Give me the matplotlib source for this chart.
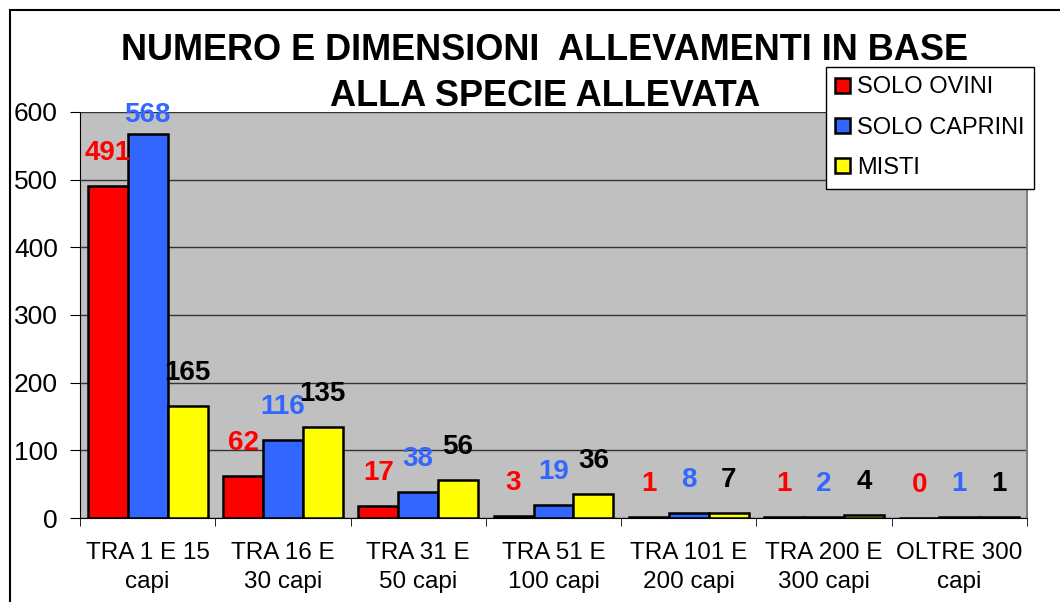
import numpy as np
import matplotlib
matplotlib.use("Agg")
import matplotlib.pyplot as plt
from matplotlib.patches import Rectangle

plt.rcParams['font.family'] = ['Liberation Sans', 'DejaVu Sans']

categories = ["TRA 1 E 15\ncapi", "TRA 16 E\n30 capi", "TRA 31 E\n50 capi", "TRA 51 E\n100 capi",
              "TRA 101 E\n200 capi", "TRA 200 E\n300 capi", "OLTRE 300\ncapi"]
solo_ovini = [491, 62, 17, 3, 1, 1, 0]
solo_caprini = [568, 116, 38, 19, 8, 2, 1]
misti = [165, 135, 56, 36, 7, 4, 1]

series = [("SOLO OVINI", solo_ovini, "#FF0000", "#FF0000"),
          ("SOLO CAPRINI", solo_caprini, "#3366FF", "#3366FF"),
          ("MISTI", misti, "#FFFF00", "#000000")]

fig = plt.figure(figsize=(10.6, 6.02), dpi=100)
ax = fig.add_axes([80 / 1060, 1 - 518 / 602, 947 / 1060, 406 / 602])
ax.set_facecolor("#C0C0C0")

# label gap above bar (~20 px) in data units, capped so top labels stay near the frame
px = 600 / 406
gap = 20 * px
cap = 600 - 16 * px

x = np.arange(len(categories))
w = 0.295
for i, (name, vals, color, lab_color) in enumerate(series):
    pos = x + (i - 1) * w
    ax.bar(pos, vals, width=w, color=color, edgecolor="black", linewidth=1.8,
           label=name, zorder=3)
    for p, v in zip(pos, vals):
        ax.text(p, min(v + gap, cap), str(v), ha="center", va="bottom",
                fontsize=20, fontweight="bold", color=lab_color, zorder=4)

ax.set_xlim(-0.5, len(categories) - 0.5)
ax.set_ylim(0, 600)
ax.set_yticks(range(0, 601, 100))
ax.yaxis.grid(True, color="#333333", linewidth=1, zorder=1)
ax.set_axisbelow(True)
ax.tick_params(axis="y", labelsize=19, length=7, direction="out", pad=9)

ax.set_xticks(x)
ax.set_xticklabels(categories, fontsize=17.5, linespacing=1.45)
ax.tick_params(axis="x", length=0, pad=17)
ax.set_xticks(np.arange(-0.5, len(categories)), minor=True)
ax.tick_params(axis="x", which="minor", length=6, direction="out")

ax.spines["top"].set_visible(False)
ax.spines["right"].set_color("#808080")
ax.spines["right"].set_linewidth(1.5)

fig.text(0.514, 1 - 50 / 602, "NUMERO E DIMENSIONI  ALLEVAMENTI IN BASE",
         ha="center", va="center", fontsize=26, fontweight="bold")
fig.text(0.514, 1 - 97 / 602, "ALLA SPECIE ALLEVATA",
         ha="center", va="center", fontsize=26, fontweight="bold")

leg = fig.legend(loc="upper left", bbox_to_anchor=(826 / 1060, 1 - 67 / 602),
                 fontsize=17, frameon=True, fancybox=False, edgecolor="black",
                 handlelength=0.6, handleheight=0.6, handletextpad=0.3,
                 labelspacing=0.78, borderpad=0.4, borderaxespad=0)
leg.get_frame().set_linewidth(1)
leg.get_frame().set_alpha(1)

fig.patches.append(Rectangle((10 / 1060, -0.1), 1.2, 1 - 10 / 602 + 0.1,
                             transform=fig.transFigure, fill=False,
                             edgecolor="black", linewidth=1.5))

fig.savefig("out.png", dpi=100)
